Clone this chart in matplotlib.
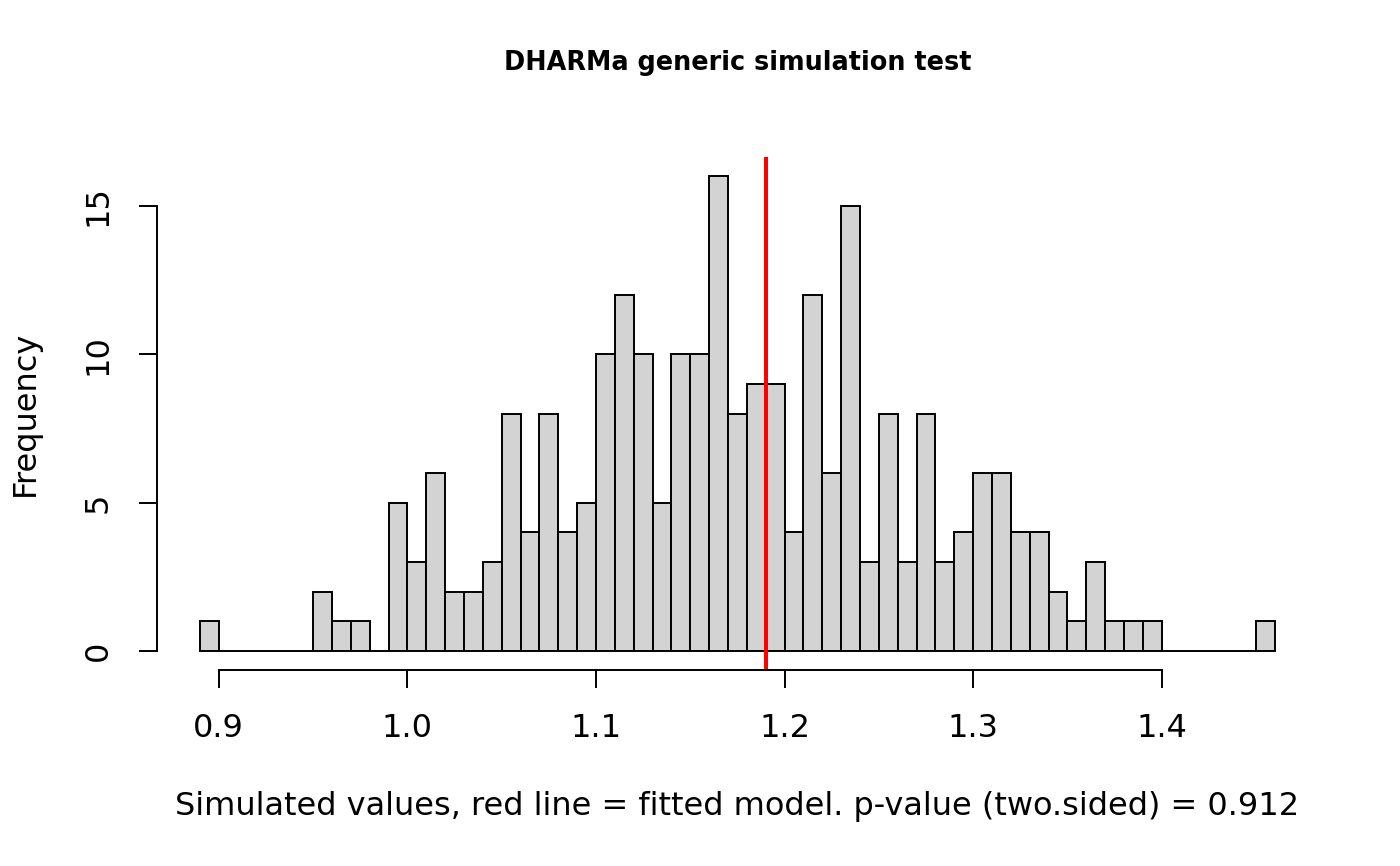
import numpy as np
import matplotlib
matplotlib.use("Agg")
import matplotlib.pyplot as plt

# histogram counts, bins of width 0.01 from 0.89 to 1.46
bin_start = 0.89
bin_width = 0.01
counts = [1, 0, 0, 0, 0, 0, 2, 1, 1, 0,
          5, 3, 6, 2, 2, 3, 8, 4, 8, 4,
          5, 10, 12, 10, 5, 10, 10, 16, 8, 9,
          9, 4, 12, 6, 15, 3, 8, 3, 8, 3,
          4, 6, 6, 4, 4, 2, 1, 3, 1, 1,
          1, 0, 0, 0, 0, 0, 1]
observed = 1.19
x_ticks = [0.9, 1.0, 1.1, 1.2, 1.3, 1.4]
y_ticks = [0, 5, 10, 15]

edges = bin_start + bin_width * np.arange(len(counts) + 1)

fig = plt.figure(figsize=(14, 8.66), dpi=100)
ax = fig.add_axes([0.1121, 0.2263, 0.8293, 0.5924])

ax.bar(edges[:-1], counts, width=bin_width, align="edge",
       color="#d3d3d3", edgecolor="black", linewidth=1.4)
ax.axvline(observed, color="red", linewidth=2.9)

# R-style limits with 4% padding
xr = edges[-1] - edges[0]
ax.set_xlim(edges[0] - 0.04 * xr, edges[-1] + 0.04 * xr)
ymax = max(counts)
ax.set_ylim(-0.04 * ymax, ymax * 1.04)

for s in ["top", "right"]:
    ax.spines[s].set_visible(False)
ax.spines["bottom"].set_bounds(x_ticks[0], x_ticks[-1])
ax.spines["left"].set_bounds(y_ticks[0], y_ticks[-1])
for s in ["bottom", "left"]:
    ax.spines[s].set_linewidth(1.4)

ax.set_xticks(x_ticks)
ax.set_xticklabels([f"{v:.1f}" for v in x_ticks])
ax.set_yticks(y_ticks)
ax.set_yticklabels([str(v) for v in y_ticks], rotation=90, va="center")
ax.tick_params(axis="both", length=13, width=1.4, labelsize=23)
ax.tick_params(axis="x", pad=18)
ax.tick_params(axis="y", pad=18)

ax.set_xlabel("Simulated values, red line = fitted model. p-value (two.sided) = 0.912",
              fontsize=23, labelpad=34)
ax.set_ylabel("Frequency", fontsize=23, labelpad=30)
fig.text(0.527, 0.927, "DHARMa generic simulation test", fontsize=18.4,
         fontweight="bold", ha="center", va="center")

fig.savefig("out.png", dpi=100)
